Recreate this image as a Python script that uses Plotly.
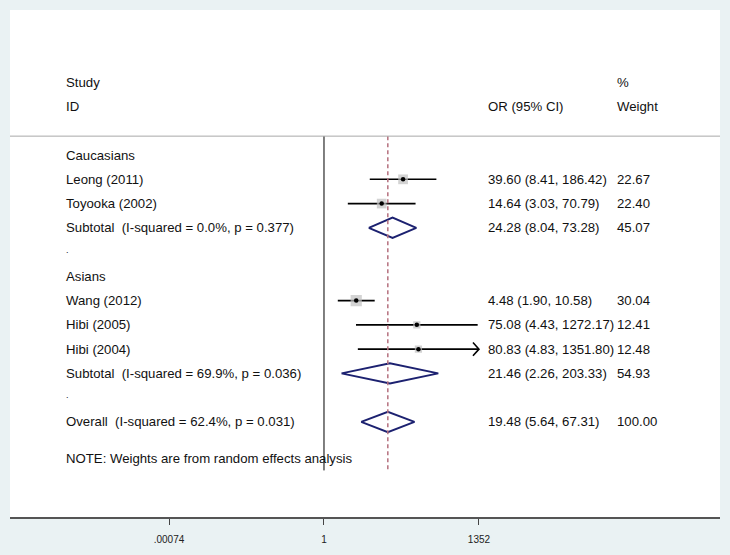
import math
import plotly.graph_objects as go

# ---------------- data ----------------
groups = ["Caucasians", "Asians"]
study_labels = ["Leong (2011)", "Toyooka (2002)", "Wang (2012)", "Hibi (2005)", "Hibi (2004)"]
study_group = [0, 0, 1, 1, 1]
study_or = [39.60, 14.64, 4.48, 75.08, 80.83]
study_lo = [8.41, 3.03, 1.90, 4.43, 4.83]
study_hi = [186.42, 70.79, 10.58, 1272.17, 1351.80]
study_w = [22.67, 22.40, 30.04, 12.41, 12.48]

pooled_labels = ["Subtotal  (I-squared = 0.0%, p = 0.377)",
                 "Subtotal  (I-squared = 69.9%, p = 0.036)",
                 "Overall  (I-squared = 62.4%, p = 0.031)"]
pooled_or = [24.28, 21.46, 19.48]
pooled_lo = [8.04, 2.26, 5.64]
pooled_hi = [73.28, 203.33, 67.31]
pooled_w = [45.07, 54.93, 100.00]

tick_vals = [0.00074, 1, 1352]
tick_text = [".00074", "1", "1352"]
note = "NOTE: Weights are from random effects analysis"

# ---------------- row layout ----------------
rows_study = [1, 2, 6, 7, 8]
rows_group = [0, 5]
rows_pooled = [3, 9, 11]
rows_dot = [4, 10]
row_note = 12.5

FONT = "Liberation Sans, Arial, sans-serif"
TXT = "#111111"
NAVY = "#1c2170"
REF = "#b5707e"
BG = "#eaf2f3"

fig = go.Figure()

# study CIs
xmax = tick_vals[-1]
for r, o, lo, hi in zip(rows_study, study_or, study_lo, study_hi):
    hi_c = min(hi, xmax)
    fig.add_trace(go.Scatter(x=[lo, hi_c], y=[r, r], mode="lines",
                             line=dict(color="black", width=1.6),
                             hoverinfo="skip", showlegend=False))
    if hi >= xmax - 1:
        f = 10 ** (6 / 49.5)
        fig.add_trace(go.Scatter(x=[hi_c / f, hi_c, hi_c / f], y=[r - 0.27, r, r + 0.27],
                                 mode="lines", line=dict(color="black", width=1.6),
                                 hoverinfo="skip", showlegend=False))

# squares sized by weight
fig.add_trace(go.Scatter(x=study_or, y=rows_study, mode="markers",
                         marker=dict(symbol="square", color="#c0c0c0",
                                     size=[2.05 * math.sqrt(w) for w in study_w],
                                     line=dict(width=0)),
                         hoverinfo="skip", showlegend=False))
fig.add_trace(go.Scatter(x=study_or, y=rows_study, mode="markers",
                         marker=dict(symbol="circle", color="black", size=4.5),
                         hoverinfo="skip", showlegend=False))

# diamonds
for r, o, lo, hi in zip(rows_pooled, pooled_or, pooled_lo, pooled_hi):
    h = 0.42
    fig.add_trace(go.Scatter(x=[lo, o, hi, o, lo], y=[r, r - h, r, r + h, r],
                             mode="lines", line=dict(color=NAVY, width=2),
                             hoverinfo="skip", showlegend=False))

# reference lines
y_top = -0.78
y_bot = 13.0
fig.add_shape(type="line", xref="x", yref="y", x0=1, x1=1, y0=y_top, y1=y_bot,
              line=dict(color="black", width=1))
fig.add_shape(type="line", xref="x", yref="y", x0=pooled_or[-1], x1=pooled_or[-1],
              y0=y_top, y1=y_bot, line=dict(color=REF, width=1.5, dash="4px,3px"))
fig.add_shape(type="line", xref="paper", yref="y", x0=0, x1=1, y0=y_top, y1=y_top,
              line=dict(color="#a8a8a8", width=1))

# ---------------- text ----------------
X_LAB = (64 - 10) / 710
X_OR = (486 - 10) / 710
X_W = (615 - 10) / 710


def txt(x, y, s, size=13.2):
    fig.add_annotation(x=x, y=y, xref="paper", yref="y", text=s, showarrow=False,
                       xanchor="left", yanchor="middle",
                       font=dict(family=FONT, size=size, color=TXT))


txt(X_LAB, -3, "Study")
txt(X_LAB, -2, "ID")
txt(X_OR, -2, "OR (95% CI)")
txt(X_W, -3, "%")
txt(X_W, -2, "Weight")

for r, g in zip(rows_group, groups):
    txt(X_LAB, r, g)
for r in rows_dot:
    txt(X_LAB, r - 0.1, ".", size=9)
for r, s, o, lo, hi, w in zip(rows_study, study_labels, study_or, study_lo, study_hi, study_w):
    txt(X_LAB, r, s)
    txt(X_OR, r, f"{o:.2f} ({lo:.2f}, {hi:.2f})")
    txt(X_W, r, f"{w:.2f}")
for r, s, o, lo, hi, w in zip(rows_pooled, pooled_labels, pooled_or, pooled_lo, pooled_hi, pooled_w):
    txt(X_LAB, r, s)
    txt(X_OR, r, f"{o:.2f} ({lo:.2f}, {hi:.2f})")
    txt(X_W, r, f"{w:.2f}")
txt(X_LAB, row_note, note)

fig.update_layout(
    width=730, height=555,
    margin=dict(l=10, r=10, t=10, b=35),
    paper_bgcolor=BG,
    plot_bgcolor="white",
    xaxis=dict(type="log", range=[-6.343, 8.0], tickvals=tick_vals, ticktext=tick_text,
               showgrid=False, zeroline=False, showline=True, linecolor="#555555",
               linewidth=1.5, ticks="outside", ticklen=6, tickcolor="#444444",
               tickfont=dict(family=FONT, size=10, color="#222222"),
               ticklabelstandoff=6, fixedrange=True),
    yaxis=dict(range=[14.92, -5.98], visible=False, showgrid=False, zeroline=False,
               fixedrange=True),
    showlegend=False,
)

fig.write_html("out.html",
               config={"displayModeBar": False},
               post_script="document.body.style.margin='0px';"
                           "document.body.style.background='" + BG + "';")
